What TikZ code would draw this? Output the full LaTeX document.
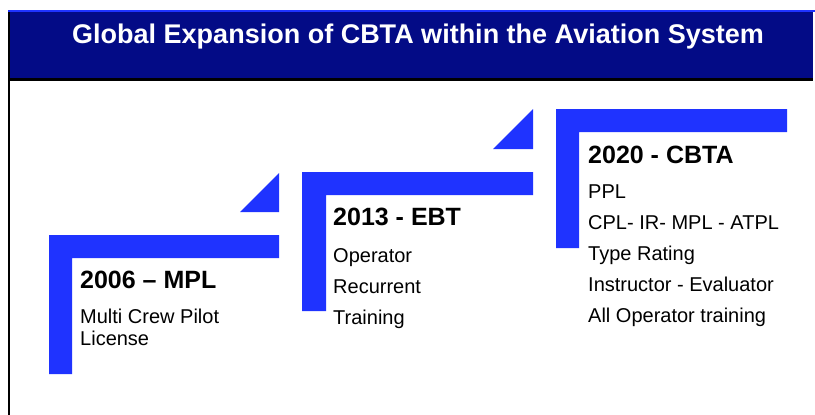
\documentclass[tikz,border=0pt]{standalone}
\usepackage{fontspec}
\setmainfont{Liberation Sans}
\usetikzlibrary{positioning}
\definecolor{cNavy}{HTML}{030B86}
\definecolor{cBar}{HTML}{1F33FF}

\begin{document}
\begin{tikzpicture}[
  x=1pt, y=-1pt,
  bar/.style={fill=cBar, draw=none},
  head/.style={anchor=base west, inner sep=0pt,
               font=\fontsize{25}{30}\selectfont\bfseries},
  body/.style={anchor=base west, inner sep=0pt,
               font=\fontsize{20}{24}\selectfont},
]
\useasboundingbox (0,0) rectangle (815,415);

% ---------------- title banner ----------------
\fill[cBar]  (8,10) rectangle (815,12);
\fill[cNavy] (8,12) rectangle (813,78);
\fill[black] (8,78) rectangle (813,81);
\fill[black] (8,12) rectangle (10,415);
\node (title) [anchor=base, inner sep=0pt, text=white,
               font=\fontsize{27}{32}\selectfont\bfseries] at (418,43)
  {Global Expansion of CBTA within the Aviation System};

% ---------------- 2006 - MPL ----------------
\fill[bar] (49,235) -- (279,235) -- (279,258) -- (72,258) -- (72,374) -- (49,374) -- cycle;
\fill[bar] (240,212) -- (279,212) -- (279,173) -- cycle;
\node (mpl) [head] at (80,288) {2006 -- MPL};
\foreach \txt [count=\i] in {Multi Crew Pilot, License}
  \node (mpl\i) [body] at (80,301+22*\i) {\txt};

% ---------------- 2013 - EBT ----------------
\fill[bar] (302,172) -- (533,172) -- (533,195) -- (326,195) -- (326,311) -- (302,311) -- cycle;
\fill[bar] (493,149) -- (533,149) -- (533,109) -- cycle;
\node (ebt) [head] at (333,225) {2013 - EBT};
\foreach \txt [count=\i] in {Operator, Recurrent, Training}
  \node (ebt\i) [body] at (333,231+31*\i) {\txt};

% ---------------- 2020 - CBTA ----------------
\fill[bar] (556,109) -- (787,109) -- (787,132) -- (579,132) -- (579,248) -- (556,248) -- cycle;
\node (cbta) [head] at (588,163) {2020 - CBTA};
\foreach \txt [count=\i] in {PPL, CPL- IR- MPL - ATPL, Type Rating,
                             Instructor - Evaluator, All Operator training}
  \node (cbta\i) [body] at (588,167+31*\i) {\txt};

\end{tikzpicture}
\end{document}
